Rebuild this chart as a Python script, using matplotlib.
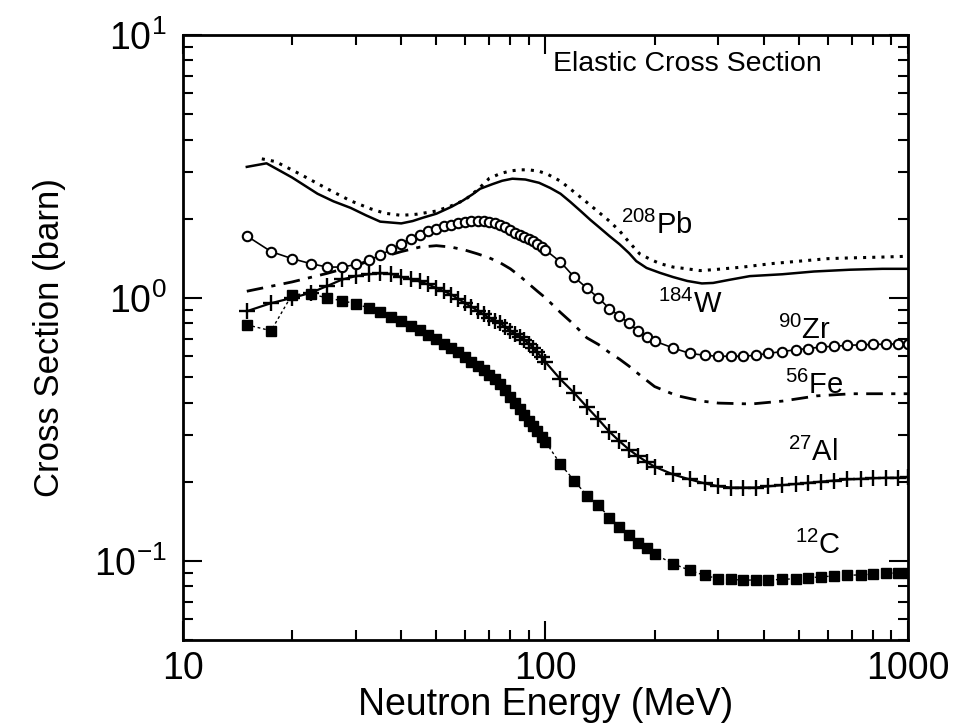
import matplotlib
matplotlib.use("Agg")
import matplotlib.pyplot as plt
from matplotlib.ticker import FixedLocator, NullFormatter

plt.rcParams['font.family'] = ['Liberation Sans', 'DejaVu Sans']
plt.rcParams['mathtext.fontset'] = 'custom'
plt.rcParams['mathtext.rm'] = 'Liberation Sans'
plt.rcParams['mathtext.it'] = 'Liberation Sans'
plt.rcParams['mathtext.bf'] = 'Liberation Sans:bold'

# energy grid of the marker curves (MeV)
e_lo = [15, 17.5, 20, 22.5, 25, 27.5, 30, 32.5, 35, 37.5, 40, 42.5, 45, 47.5,
        50, 52.5, 55, 57.5, 60, 62.5, 65, 67.5, 70, 72.5, 75, 77.5, 80, 82.5,
        85, 87.5, 90, 92.5, 95, 97.5, 100]
e_mid = [110, 120, 130, 140, 150, 160, 170, 180, 190, 200, 225, 250, 275]
e_hi = [300, 325, 350, 380, 410, 450, 490, 530, 575, 625, 680, 740, 800, 870,
        940, 1000]
energy = e_lo + e_mid + e_hi

# 90Zr (open circles)
zr = [1.72, 1.50, 1.41, 1.35, 1.31, 1.31, 1.34, 1.39, 1.45, 1.53, 1.61, 1.68,
      1.74, 1.79, 1.83, 1.87, 1.90, 1.93, 1.95, 1.96, 1.96, 1.96, 1.94, 1.92,
      1.89, 1.86, 1.82, 1.77, 1.73, 1.70, 1.67, 1.64, 1.60, 1.56, 1.52,
      1.37, 1.20, 1.09, 1.00, 0.91, 0.855, 0.80, 0.75, 0.71, 0.685, 0.645,
      0.615, 0.605,
      0.600, 0.600, 0.600, 0.605, 0.615, 0.625, 0.635, 0.642, 0.650, 0.655,
      0.660, 0.663, 0.665, 0.667, 0.668, 0.668]

# 27Al (plus)
al = [0.89, 0.955, 1.00, 1.045, 1.11, 1.175, 1.21, 1.23, 1.24, 1.235, 1.20,
      1.18, 1.155, 1.125, 1.09, 1.06, 1.03, 0.99, 0.955, 0.925, 0.895, 0.865,
      0.84, 0.82, 0.80, 0.775, 0.75, 0.73, 0.71, 0.69, 0.67, 0.645, 0.62,
      0.595, 0.57,
      0.49, 0.435, 0.385, 0.345, 0.31, 0.285, 0.265, 0.25, 0.238, 0.228,
      0.213, 0.204, 0.197,
      0.192, 0.190, 0.190, 0.190, 0.192, 0.194, 0.196, 0.198, 0.200, 0.202,
      0.204, 0.205, 0.206, 0.207, 0.207, 0.208]

# 12C (filled squares)
c12 = [0.79, 0.75, 1.03, 1.035, 1.00, 0.975, 0.95, 0.915, 0.885, 0.845, 0.815,
       0.785, 0.755, 0.72, 0.695, 0.67, 0.645, 0.62, 0.595, 0.57, 0.55, 0.53,
       0.51, 0.49, 0.47, 0.445, 0.42, 0.40, 0.378, 0.36, 0.341, 0.325, 0.311,
       0.297, 0.284,
       0.233, 0.202, 0.177, 0.163, 0.146, 0.135, 0.125, 0.117, 0.112, 0.106,
       0.0975, 0.092, 0.088,
       0.0855, 0.085, 0.0845, 0.0845, 0.0845, 0.085, 0.0855, 0.086, 0.087,
       0.0875, 0.088, 0.0885, 0.089, 0.0895, 0.090, 0.090]

# 56Fe (dash-dot)
fe_e = [15, 20, 25, 30, 35, 40, 45, 50, 55, 60, 65, 70, 75, 80, 85, 90, 95,
        100, 110, 120, 130, 140, 150, 160, 170, 185, 200, 230, 270, 300, 370,
        450, 560, 700, 850, 1000]
fe = [1.06, 1.15, 1.24, 1.33, 1.42, 1.50, 1.56, 1.58, 1.56, 1.52, 1.47, 1.42,
      1.36, 1.29, 1.21, 1.13, 1.06, 1.00, 0.88, 0.79, 0.705, 0.665, 0.62,
      0.585, 0.55, 0.50, 0.46, 0.425, 0.405, 0.398, 0.395, 0.405, 0.424,
      0.432, 0.432, 0.432]

# 184W (solid)
w_e = [15, 17, 20, 23.5, 26, 29, 32, 35, 40, 43, 46, 50, 55, 59, 63, 66, 71.5,
       76, 81, 88, 96, 103, 110, 117, 125, 133, 141, 150, 160, 170, 178, 190,
       207, 225, 246, 270, 290, 320, 366, 450, 550, 692, 850, 1000]
w = [3.15, 3.25, 2.87, 2.49, 2.33, 2.20, 2.06, 1.95, 1.92, 1.96, 2.02, 2.09,
     2.22, 2.34, 2.48, 2.60, 2.71, 2.79, 2.84, 2.82, 2.74, 2.62, 2.49, 2.32,
     2.14, 1.98, 1.85, 1.72, 1.60, 1.48, 1.38, 1.30, 1.245, 1.20, 1.16, 1.135,
     1.14, 1.17, 1.21, 1.23, 1.26, 1.28, 1.29, 1.29]

# 208Pb (dotted)
pb_e = [16.5, 18, 21, 25, 29, 33, 36, 40, 44, 50, 55, 60, 65, 70, 75, 80, 85,
        90, 96, 101, 110, 119, 129, 139, 150, 160, 170, 182, 195, 207, 225,
        246, 267, 290, 350, 420, 503, 600, 700, 850, 1000]
pb = [3.38, 3.30, 2.96, 2.60, 2.34, 2.18, 2.10, 2.06, 2.08, 2.14, 2.24, 2.36,
      2.58, 2.85, 2.97, 3.04, 3.07, 3.07, 3.03, 2.96, 2.78, 2.55, 2.33, 2.14,
      1.96, 1.80, 1.63, 1.47, 1.40, 1.35, 1.31, 1.29, 1.27, 1.28, 1.31, 1.35,
      1.38, 1.41, 1.42, 1.43, 1.44]

fig = plt.figure(figsize=(9.56, 7.27), dpi=100)
ax = fig.add_axes([0.1914, 0.1197, 0.7584, 0.8322])

ax.plot(pb_e, pb, color='black', lw=2.2, linestyle=(0, (1, 2)))
ax.plot(w_e, w, color='black', lw=1.8)
ax.plot(fe_e, fe, color='black', lw=2.0, linestyle=(0, (6, 3, 1.5, 3)))
ax.plot(energy, zr, color='black', lw=1.2, marker='o', ms=6.8, mfc='white',
        mec='black', mew=1.5)
ax.plot(energy, al, color='black', lw=1.6, marker='+', ms=11, mew=1.7)
ax.plot(energy, c12, color='black', lw=1.0, linestyle=(0, (2, 2)),
        marker='s', ms=7.2, mfc='black', mec='black')

ax.set_xscale('log')
ax.set_yscale('log')
ax.set_xlim(10, 1000)
ax.set_ylim(0.05, 10)

ax.xaxis.set_major_locator(FixedLocator([10, 100, 1000]))
ax.set_xticklabels(['10', '100', '1000'])
ax.yaxis.set_major_locator(FixedLocator([0.1, 1, 10]))
ax.set_yticklabels([r'10$^{\mathrm{-1}}$', r'10$^{\mathrm{0}}$', r'10$^{\mathrm{1}}$'])
ax.xaxis.set_minor_formatter(NullFormatter())
ax.yaxis.set_minor_formatter(NullFormatter())

ax.tick_params(which='both', direction='in', top=True, right=True, width=1.5,
               labelsize=27, pad=8, colors='black')
ax.tick_params(axis='y', which='both', pad=12)
ax.tick_params(which='major', length=14)
ax.tick_params(which='minor', length=7)
for s in ax.spines.values():
    s.set_linewidth(2)

ax.set_xlabel('Neutron Energy (MeV)', fontsize=27, labelpad=0)
ax.set_ylabel('Cross Section (barn)', fontsize=25, labelpad=20)

ax.text(105, 7.3, 'Elastic Cross Section', fontsize=20.5, ha='left', va='baseline')
lab = dict(fontsize=21, ha='left', va='baseline')
ax.text(162, 1.75, r'$^{208}$Pb', **lab)
ax.text(204, 0.877, r'$^{184}$W', **lab)
ax.text(437, 0.699, r'$^{90}$Zr', **lab)
ax.text(458, 0.431, r'$^{56}$Fe', **lab)
ax.text(467, 0.240, r'$^{27}$Al', **lab)
ax.text(488, 0.106, r'$^{12}$C', **lab)

fig.savefig('out.png', dpi=100)
